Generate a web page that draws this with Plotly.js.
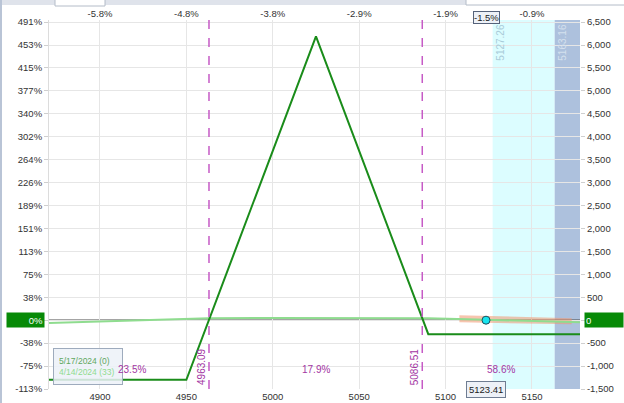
<!DOCTYPE html>
<html><head><meta charset="utf-8">
<script src="https://cdn.plot.ly/plotly-3.0.1.min.js"></script>
<style>html,body{margin:0;padding:0;background:#fff;}#chart{width:624px;height:403px;}</style>
</head><body><div id="chart"></div>
<script>
// ---- data ----
const expiryLabel = "5/17/2024 (0)";
const todayLabel = "4/14/2024 (33)";
const expX = [4870.5, 4950, 5025, 5090, 5177.8];
const expY = [-1300, -1300, 6190, -305, -305];
const t0X = [4870.5, 4900, 4930, 4963, 5000, 5050, 5090, 5123.41, 5150, 5177.8];
const t0Y = [-60, -30, 0, 40, 50, 50, 40, 10, -20, -45];
const bandX = [5108, 5173];
const bandUpper = [110, 45];
const bandLower = [-45, -90];
const spotPrice = 5123.41;
const spotPnl = 0;
const breakevens = [4963.09, 5086.51];
const breakevenLabels = ["4963.09", "5086.51"];
const zoneProbs = ["23.5%", "17.9%", "58.6%"];
const sdLevels = [5127.26, 5163.16];
const sdLabels = ["5127.26", "5163.16"];
const xRange = [4870.5, 5177.8];
const yRange = [-1500, 6545];
const xTicks = [4900, 4950, 5000, 5050, 5100, 5150];
const xTopLabels = ["-5.8%", "-4.8%", "-3.8%", "-2.9%", "-1.9%", "-0.9%"];
const spotPctLabel = "-1.5%";
const yTicks = [6500, 6000, 5500, 5000, 4500, 4000, 3500, 3000, 2500, 2000, 1500, 1000, 500, 0, -500, -1000, -1500];
const yPctLabels = ["491%", "453%", "415%", "377%", "340%", "302%", "264%", "226%", "189%", "151%", "113%", "75%", "38%", "0%", "-38%", "-75%", "-113%"];

// ---- helpers ----
const L = 49, R = 580, T = 20, B = 389;
const px = p => (p - L) / (R - L);
const py = p => (B - p) / (B - T);
const font = "Liberation Sans, Arial, sans-serif";
const purple = "#a335a3";

const traces = [
  {x: [bandX[0], bandX[1], bandX[1], bandX[0]], y: [bandUpper[0], bandUpper[1], bandLower[1], bandLower[0]],
   type: "scatter", mode: "lines", fill: "toself", fillcolor: "rgba(240,150,110,0.55)",
   line: {width: 0}, hoverinfo: "skip", showlegend: false},
  {x: t0X, y: t0Y, type: "scatter", mode: "lines", line: {color: "#8fdc8f", width: 2}, name: todayLabel, showlegend: false},
  {x: expX, y: expY, type: "scatter", mode: "lines", line: {color: "#1a8c1a", width: 2}, name: expiryLabel, showlegend: false},
  {x: [spotPrice], y: [spotPnl], type: "scatter", mode: "markers",
   marker: {color: "#18e4ee", size: 8, line: {color: "#1d4f5e", width: 1}}, showlegend: false},
  {x: xRange, y: yRange, xaxis: "x2", yaxis: "y2", type: "scatter", mode: "none", hoverinfo: "skip", showlegend: false}
];

const shapes = [];
shapes.push({type: "rect", xref: "x", yref: "paper", x0: sdLevels[0], x1: sdLevels[1], y0: 0, y1: 1,
  fillcolor: "#dcfdff", line: {width: 0}, layer: "below"});
shapes.push({type: "rect", xref: "x", yref: "paper", x0: sdLevels[1], x1: xRange[1], y0: 0, y1: 1,
  fillcolor: "#adc1dd", line: {width: 0}, layer: "below"});
breakevens.forEach(b => shapes.push({type: "line", xref: "x", yref: "paper", x0: b, x1: b, y0: 0, y1: 1,
  line: {color: "#c65bc6", width: 1.5, dash: "dash"}}));
shapes.push({type: "line", xref: "paper", yref: "y", x0: 0, x1: 1, y0: 0, y1: 0,
  line: {color: "#4a4a4a", width: 1.3}, layer: "below"});
shapes.push({type: "rect", xref: "paper", yref: "paper", x0: px(0), x1: px(624), y0: py(5), y1: py(-2),
  fillcolor: "#dfe3eb", line: {width: 0}});
shapes.push({type: "rect", xref: "paper", yref: "paper", x0: px(55), x1: px(105), y0: py(6), y1: py(-2),
  fillcolor: "#ffffff", line: {color: "#b4bcc8", width: 1}});
shapes.push({type: "rect", xref: "paper", yref: "paper", x0: px(466), x1: px(626), y0: py(5), y1: py(-2),
  fillcolor: "#ffffff", line: {color: "#b4bcc8", width: 1}});
shapes.push({type: "line", xref: "paper", yref: "paper", x0: px(1), x1: px(1), y0: py(403), y1: py(0),
  line: {color: "#b9c4d6", width: 2}});

const annotations = [];
// legend box (drawn first so labels sit on top)
annotations.push({xref: "paper", yref: "paper", x: px(53), y: py(348), xanchor: "left", yanchor: "top",
  text: "<span style='color:#5fa85f'>" + expiryLabel + "</span><br><span style='color:#8fdc8f'>" + todayLabel + "</span>",
  showarrow: false, align: "left", width: 58, height: 25, bgcolor: "rgba(236,241,248,0.85)", bordercolor: "#9eabbd", borderwidth: 1, borderpad: 5,
  font: {family: font, size: 8.5}});
breakevens.forEach((b, i) => annotations.push({x: b, xref: "x", y: py(387), yref: "paper",
  text: breakevenLabels[i], textangle: -90, showarrow: false, xanchor: "right", yanchor: "bottom",
  font: {family: font, size: 10, color: purple}}));
const bounds = [xRange[0], breakevens[0], breakevens[1], xRange[1]];
zoneProbs.forEach((p, i) => annotations.push({x: (bounds[i] + bounds[i + 1]) / 2 + (i === 0 ? 1.5 : 0), xref: "x", y: py(377), yref: "paper",
  text: p, showarrow: false, font: {family: font, size: 10, color: purple}}));
const sdColors = ["#a9cbd9", "#d4e0ee"];
sdLevels.forEach((s, i) => annotations.push({x: s, xref: "x", y: py(22), yref: "paper",
  text: sdLabels[i], textangle: -90, showarrow: false, xanchor: "left", yanchor: "top",
  font: {family: font, size: 10, color: sdColors[i]}}));
annotations.push({xref: "paper", yref: "y", x: px(45), y: 0, xanchor: "right", yanchor: "middle",
  text: "0%", showarrow: false, align: "right", width: 35, height: 12, bgcolor: "#078a07",
  font: {family: font, size: 9.5, color: "#ffffff"}});
annotations.push({xref: "paper", yref: "y", x: px(584), y: 0, xanchor: "left", yanchor: "middle",
  text: "0", showarrow: false, align: "left", width: 36, height: 12, bgcolor: "#078a07",
  font: {family: font, size: 9.5, color: "#ffffff"}});
annotations.push({x: spotPrice, xref: "x", y: py(398), yref: "paper", text: spotPrice.toFixed(2),
  showarrow: false, bgcolor: "#edf1f7", bordercolor: "#6f7d92", borderwidth: 1, borderpad: 2,
  font: {family: font, size: 9.5, color: "#222"}});
annotations.push({x: spotPrice, xref: "x", y: py(10.5), yref: "paper", text: spotPctLabel,
  showarrow: false, bgcolor: "#edf1f7", bordercolor: "#55627a", borderwidth: 1, borderpad: 0,
  font: {family: font, size: 9.5, color: "#222"}});

const yTickText = yPctLabels.map(t => t === "0%" ? "" : t);
const yRightText = yTicks.map(v => v === 0 ? "" : v.toLocaleString("en-US"));

const layout = {
  width: 624, height: 403,
  margin: {l: L, r: 624 - R, t: T, b: 403 - B, pad: 0},
  paper_bgcolor: "#ffffff", plot_bgcolor: "#ffffff",
  font: {family: font, size: 9.5, color: "#333"},
  showlegend: false,
  xaxis: {range: xRange, tickvals: xTicks, ticktext: xTicks.map(String), showgrid: true, gridcolor: "#e6e6e6",
    zeroline: false, showline: false, ticks: "", tickfont: {size: 9.5, color: "#333"}},
  xaxis2: {range: xRange, overlaying: "x", side: "top", anchor: "y", tickvals: xTicks, ticktext: xTopLabels,
    showgrid: false, zeroline: false, showline: false, ticks: "", tickfont: {size: 9.5, color: "#333"}},
  yaxis: {range: yRange, tickvals: yTicks, ticktext: yTickText, showgrid: true, gridcolor: "#e6e6e6",
    zeroline: false, showline: true, linecolor: "#dcdcdc", ticks: "outside", ticklen: 4, tickcolor: "#cfcfcf",
    tickfont: {size: 9.5, color: "#333"}},
  yaxis2: {range: yRange, overlaying: "y", side: "right", anchor: "x", tickvals: yTicks, ticktext: yRightText,
    showgrid: false, zeroline: false, showline: false, ticks: "outside", ticklen: 4, tickcolor: "#cfcfcf",
    tickfont: {size: 9.5, color: "#333"}},
  shapes: shapes,
  annotations: annotations
};

Plotly.newPlot("chart", traces, layout, {staticPlot: true, displayModeBar: false});
</script>
</body></html>
